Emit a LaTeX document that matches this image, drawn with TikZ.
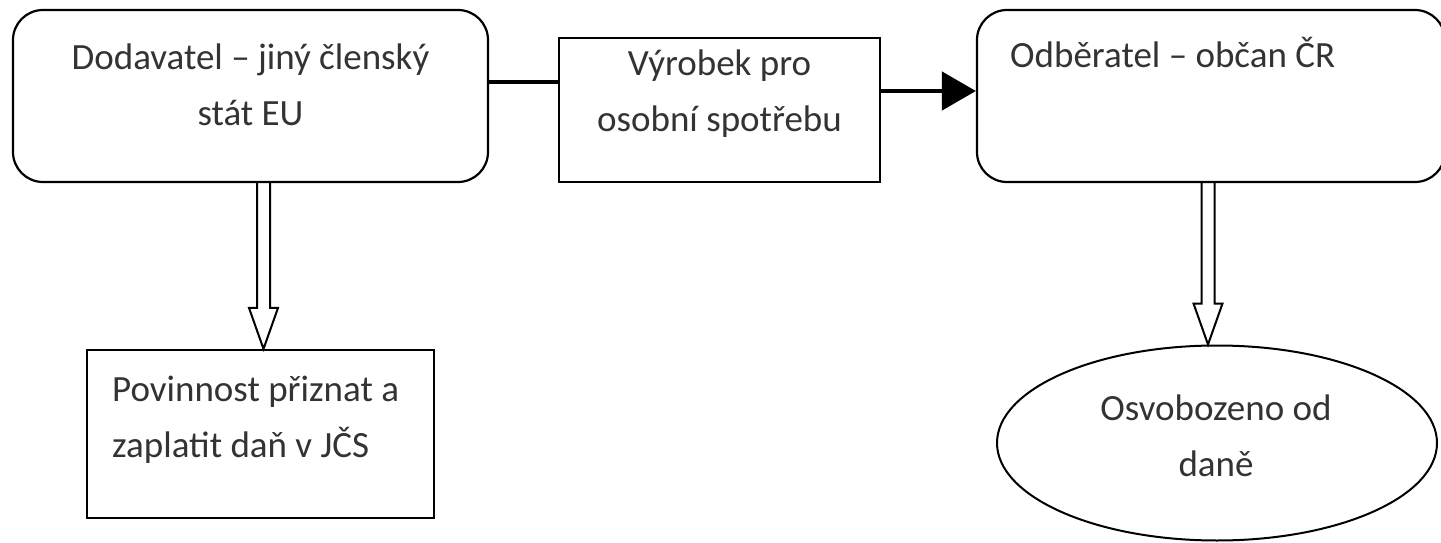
\documentclass[tikz,border=0pt]{standalone}
\usepackage{fontspec}
\setmainfont{Carlito}
\usetikzlibrary{calc,arrows.meta,shapes.geometric}
\definecolor{ink}{gray}{0.2}
% hollow block arrow: open at the top (#1), tip at #2
\newcommand{\hollowarrow}[2]{%
  \draw[hollow] ($(#1)+(-6.5,0)$) -- ($(#2)+(-6.5,-41)$) -- ($(#2)+(-14.5,-41)$)
    -- (#2) -- ($(#2)+(14.5,-41)$) -- ($(#2)+(6.5,-41)$) -- ($(#1)+(6.5,0)$);}
\begin{document}
\begin{tikzpicture}[x=1pt,y=-1pt,
  box/.style={draw, line width=2.2pt, inner sep=0pt},
  rbox/.style={box, rounded corners=30pt},
  txt/.style={font=\fontsize{37}{56}\selectfont, text=ink, inner sep=0pt},
  flow/.style={line width=4.5pt},
  hollow/.style={line width=2pt, line join=miter}]
\useasboundingbox (0,0) rectangle (1441,543);

% boxes
\node[rbox, minimum width=475pt, minimum height=172pt] (sup) at (250.5,96) {};
\node[box, minimum width=321pt, minimum height=144pt] (prod) at (719.5,110) {};
\node[rbox, minimum width=468pt, minimum height=172pt] (cust) at (1211,96) {};
\node[box, minimum width=347pt, minimum height=168pt] (duty) at (260.5,434) {};
\node[ellipse, draw, line width=2pt, inner sep=0pt,
      minimum width=440pt, minimum height=195pt] (exempt) at (1217,443) {};

% texts
\node[txt, align=center, anchor=north] (supt) at (250.5,44) {Dodavatel – jiný členský\\stát EU};
\node[txt, align=center, anchor=north] (prodt) at (719.5,50) {Výrobek pro\\osobní spotřebu};
\node[txt, align=left, anchor=north west] (custt) at (1010,37) {Odběratel – občan ČR};
\node[txt, align=left, anchor=north west] (dutyt) at (112,376) {Povinnost přiznat a\\zaplatit daň v JČS};
\node[txt, align=center, anchor=north] (exemptt) at (1216,395) {Osvobozeno od\\daně};

% supply flow
\draw[flow] ([yshift=14pt]sup.east) -- ([yshift=28pt]prod.west);
\draw[flow, -{Triangle[length=34pt,width=38pt]}] ([yshift=19pt]prod.east) -- ([yshift=5pt]cust.west);

% consequences
\coordinate (a1s) at ([xshift=3pt]duty.north |- sup.south);
\coordinate (a1e) at ([xshift=3pt]duty.north);
\hollowarrow{a1s}{a1e}
\coordinate (a2s) at ([xshift=-3pt]cust.south);
\coordinate (a2e) at ([xshift=-3pt]cust.south |- exempt.north);
\hollowarrow{a2s}{a2e}
\end{tikzpicture}
\end{document}
